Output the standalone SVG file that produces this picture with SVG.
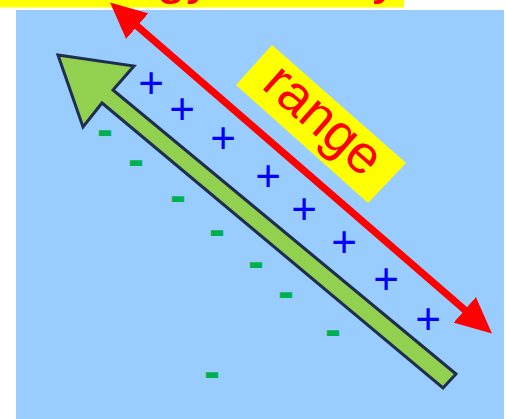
<svg xmlns="http://www.w3.org/2000/svg" width="506" height="419" viewBox="0 0 506 419">
<style>
.plus{font-family:"Liberation Sans",Arial,sans-serif;font-size:44px;fill:#0000ff;text-anchor:middle}
.minus{font-family:"Liberation Sans",Arial,sans-serif;font-size:48px;font-weight:bold;fill:#00b050;text-anchor:middle}
.red{font-family:"Liberation Sans",Arial,sans-serif;fill:#ff0000}
</style>
<defs>
<marker id="rhead" markerUnits="userSpaceOnUse" markerWidth="37" markerHeight="35" refX="1" refY="17" orient="auto-start-reverse" viewBox="0 0 37 34">
<path d="M0,0 L36,17 L0,34 Z" fill="#ff0000"/>
</marker>
</defs>
<g id="background">
<rect x="0" y="0" width="506" height="419" fill="#ffffff"/>
<rect x="16" y="10" width="488" height="409" fill="#99ccff"/>
</g>
<g id="title">
<rect x="0" y="0" width="404" height="7.5" fill="#ffff00"/>
<text class="red" x="42" y="-7" font-size="54">Energy density</text>
</g>
<g id="connectors">
<line x1="136.5" y1="25.5" x2="465.5" y2="310.5" stroke="#ff0000" stroke-width="7" marker-start="url(#rhead)" marker-end="url(#rhead)"/>
</g>
<g id="green-arrow">
<polygon points="58,55 134,66 113,90 456,374 443,388 102,103 83,127" fill="#92d050" stroke="#1f2d4f" stroke-width="3" stroke-linejoin="miter"/>
</g>
<g id="range-label">
<polygon points="272,45 406,163 368,203 236,85" fill="#ffff00"/>
<text class="red" font-size="54" text-anchor="middle" transform="translate(320,124) rotate(41.4)" x="0" y="12">range</text>
</g>
<g id="plus-charges">
<text class="plus" x="151" y="97.5">+</text>
<text class="plus" x="182" y="123.5">+</text>
<text class="plus" x="223" y="152.5">+</text>
<text class="plus" x="268" y="190.5">+</text>
<text class="plus" x="304" y="223.5">+</text>
<text class="plus" x="344" y="256.5">+</text>
<text class="plus" x="386" y="293.5">+</text>
<text class="plus" x="428" y="333.5">+</text>
</g>
<g id="minus-charges">
<text class="minus" x="105" y="145.5">-</text>
<text class="minus" x="136" y="175.5">-</text>
<text class="minus" x="178" y="211.5">-</text>
<text class="minus" x="217" y="245.5">-</text>
<text class="minus" x="256" y="277.5">-</text>
<text class="minus" x="286" y="307.5">-</text>
<text class="minus" x="333" y="345.5">-</text>
<text class="minus" x="212" y="387.5">-</text>
</g>
</svg>
